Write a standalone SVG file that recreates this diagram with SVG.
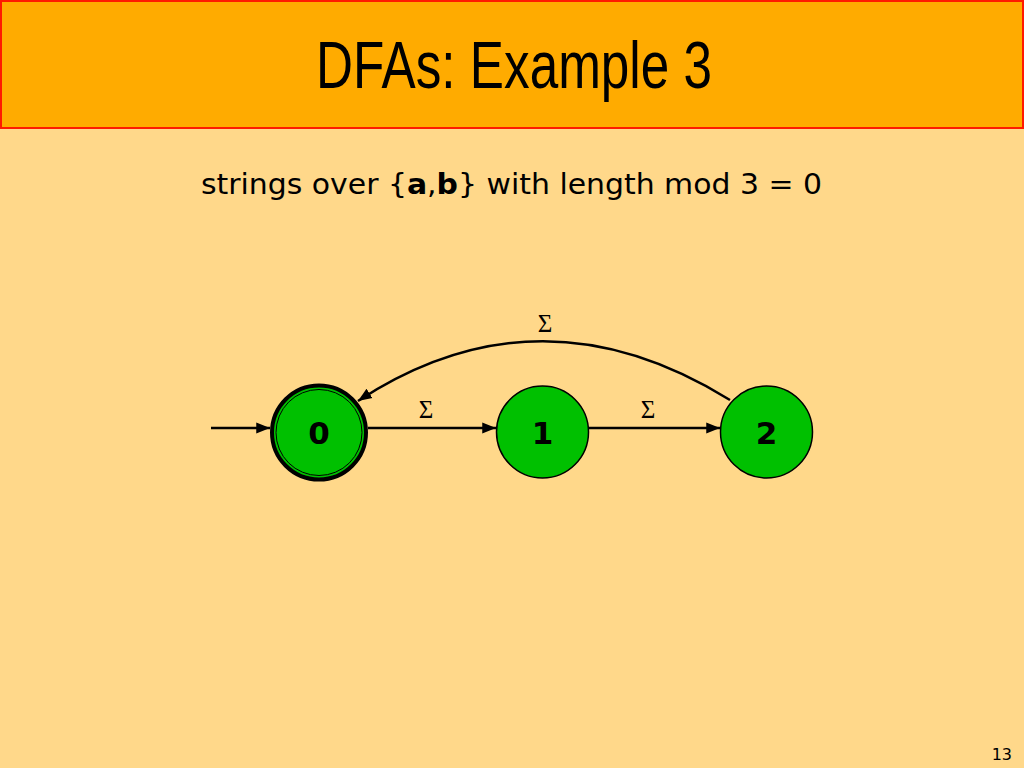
<svg xmlns="http://www.w3.org/2000/svg" width="1024" height="768" viewBox="0 0 1024 768">
<style>
.node{fill:#00C000;stroke:#000;stroke-width:1.5}
.lbl{font-family:"DejaVu Sans",Verdana,sans-serif;font-weight:bold;font-size:31px;text-anchor:middle}
.sig{font-family:"Liberation Serif","Times New Roman",serif;font-size:25px;text-anchor:middle}
.edge{fill:none;stroke:#000;stroke-width:2.5;marker-end:url(#ah)}
</style>
<defs>
<marker id="ah" viewBox="0 0 10 10" refX="10" refY="5" markerWidth="5.5" markerHeight="5.5" orient="auto" markerUnits="strokeWidth">
<path d="M0,1 L10,5 L0,9 z" fill="#000"/>
</marker>
</defs>
<rect x="0" y="0" width="1024" height="768" fill="#FFD88A"/>
<g id="header">
<rect x="1" y="1" width="1022" height="127" fill="#FFAB00" stroke="#FF1A00" stroke-width="2"/>
<text x="514" y="88" font-family="'Liberation Sans Narrow','Liberation Sans',Arial,sans-serif" font-size="66" textLength="396" lengthAdjust="spacingAndGlyphs" text-anchor="middle">DFAs: Example 3</text>
</g>
<text x="201" y="194" font-family="'DejaVu Sans',Verdana,Tahoma,sans-serif" font-size="29" textLength="621" lengthAdjust="spacingAndGlyphs">strings over {<tspan font-weight="bold">a</tspan>,<tspan font-weight="bold">b</tspan>} with length mod 3 = 0</text>
<g id="connectors">
<path class="edge" d="M211,428 L270,428"/>
<path class="edge" d="M368,428 L496,428"/>
<path class="edge" d="M589,428 L720,428"/>
<path class="edge" d="M730,400 Q540,282 358,401"/>
<text class="sig" x="426" y="418">Σ</text>
<text class="sig" x="648" y="418">Σ</text>
<text class="sig" x="545" y="332">Σ</text>
</g>
<g id="node0">
<circle cx="319" cy="432.5" r="47" fill="#00C000" stroke="#000" stroke-width="4"/>
<circle cx="319" cy="432.5" r="43" fill="none" stroke="#000" stroke-width="1"/>
<text class="lbl" x="319" y="444">0</text>
</g>
<g id="node1">
<circle class="node" cx="542.5" cy="432" r="46"/>
<text class="lbl" x="542.5" y="444">1</text>
</g>
<g id="node2">
<circle class="node" cx="766.5" cy="432" r="46"/>
<text class="lbl" x="766.5" y="444">2</text>
</g>
<text x="1012" y="760" font-family="'DejaVu Sans',Verdana,sans-serif" font-size="16" text-anchor="end">13</text>
</svg>
